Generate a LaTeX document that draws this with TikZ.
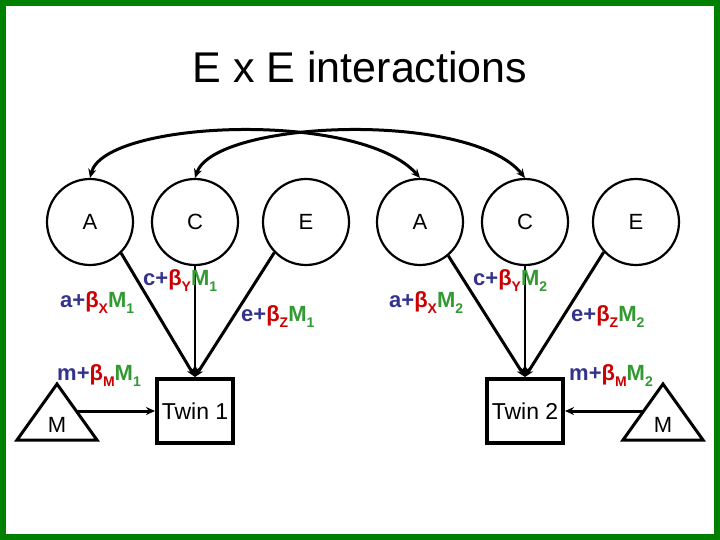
\documentclass[tikz,border=0pt]{standalone}
\usepackage{fontspec}
\setmainfont{Liberation Sans}
\usetikzlibrary{arrows.meta}
\definecolor{frame}{RGB}{0,128,0}
\definecolor{cblue}{RGB}{51,51,140}
\definecolor{cred}{RGB}{204,0,0}
\definecolor{cgreen}{RGB}{51,153,51}
\newcommand{\sbx}[1]{\raisebox{-0.28em}{\fontsize{14}{14}\selectfont #1}}
\newcommand{\coef}[3]{\textbf{\textcolor{cblue}{#1+}\textcolor{cred}{β\sbx{#2}}\textcolor{cgreen}{M\sbx{#3}}}}
\tikzset{
  latent/.style={circle, draw, line width=2.2pt, minimum size=86pt, inner sep=0pt, font=\fontsize{22}{22}\selectfont},
  twin/.style={draw, line width=4pt, minimum width=76pt, minimum height=64pt, inner sep=0pt, font=\fontsize{23}{23}\selectfont},
  coeflbl/.style={anchor=base west, inner sep=0pt, font=\fontsize{22}{22}\selectfont},
  arr/.style={-{Stealth[length=9pt,width=8pt]}},
  dbl/.style={{Stealth[length=9pt,width=8pt]}-{Stealth[length=9pt,width=8pt]}, line width=3pt},
  path1/.style={arr, line width=3pt},
  path2/.style={arr, line width=2pt},
}
\begin{document}
\begin{tikzpicture}[x=1pt,y=-1pt]
\fill[frame] (0,0) rectangle (720,540);
\fill[white] (6,6) rectangle (714,534);
\useasboundingbox (0,0) rectangle (720,540);

\node[anchor=base, inner sep=0pt, font=\fontsize{43}{43}\selectfont] (title) at (360,83) {E x E interactions};

\node[latent] (A1) at (90,222) {A};
\node[latent] (C1) at (195,222) {C};
\node[latent] (E1) at (306,222) {E};
\node[latent] (A2) at (420,222) {A};
\node[latent] (C2) at (525,222) {C};
\node[latent] (E2) at (636,222) {E};

\node[twin] (T1) at (195,411) {Twin 1};
\node[twin] (T2) at (525,411) {Twin 2};

% triangles
\coordinate (MLa) at (57,384);
\coordinate (MLb) at (17,440);
\coordinate (MLc) at (97,440);
\draw[line width=3pt, line join=miter] (MLa) -- (MLb) -- (MLc) -- cycle;
\node[font=\fontsize{22}{22}\selectfont, inner sep=0pt] (ML) at (57,425) {M};
\coordinate (MLe) at (77,411);

\coordinate (MRa) at (663,384);
\coordinate (MRb) at (623,440);
\coordinate (MRc) at (703,440);
\draw[line width=3pt, line join=miter] (MRa) -- (MRb) -- (MRc) -- cycle;
\node[font=\fontsize{22}{22}\selectfont, inner sep=0pt] (MR) at (663,425) {M};
\coordinate (MRe) at (643,411);

% paths to twins
\draw[path1] (A1.-45) -- (T1.north);
\draw[path2] (C1.south) -- (T1.north);
\draw[path1] (E1.-136) -- (T1.north);
\draw[path1] (A2.-50) -- (T2.north);
\draw[path2] (C2.south) -- (T2.north);
\draw[path1] (E2.-137) -- (T2.north);

\draw[path1] (MLe) -- (T1.west);
\draw[path1] (MRe) -- (T2.east);

% correlations
\draw[dbl] (A1.north) .. controls (105,120) and (360,110) .. (A2.north);
\draw[dbl] (C1.north) .. controls (215,120) and (470,110) .. (C2.north);

% coefficient labels
\node[coeflbl] (la1) at (60,307) {\coef{a}{X}{1}};
\node[coeflbl] (lc1) at (143,285) {\coef{c}{Y}{1}};
\node[coeflbl] (le1) at (241,321) {\coef{e}{Z}{1}};
\node[coeflbl] (lm1) at (57,380) {\coef{m}{M}{1}};
\node[coeflbl] (la2) at (389,307) {\coef{a}{X}{2}};
\node[coeflbl] (lc2) at (473,285) {\coef{c}{Y}{2}};
\node[coeflbl] (le2) at (571,321) {\coef{e}{Z}{2}};
\node[coeflbl] (lm2) at (569,380) {\coef{m}{M}{2}};
\end{tikzpicture}
\end{document}
